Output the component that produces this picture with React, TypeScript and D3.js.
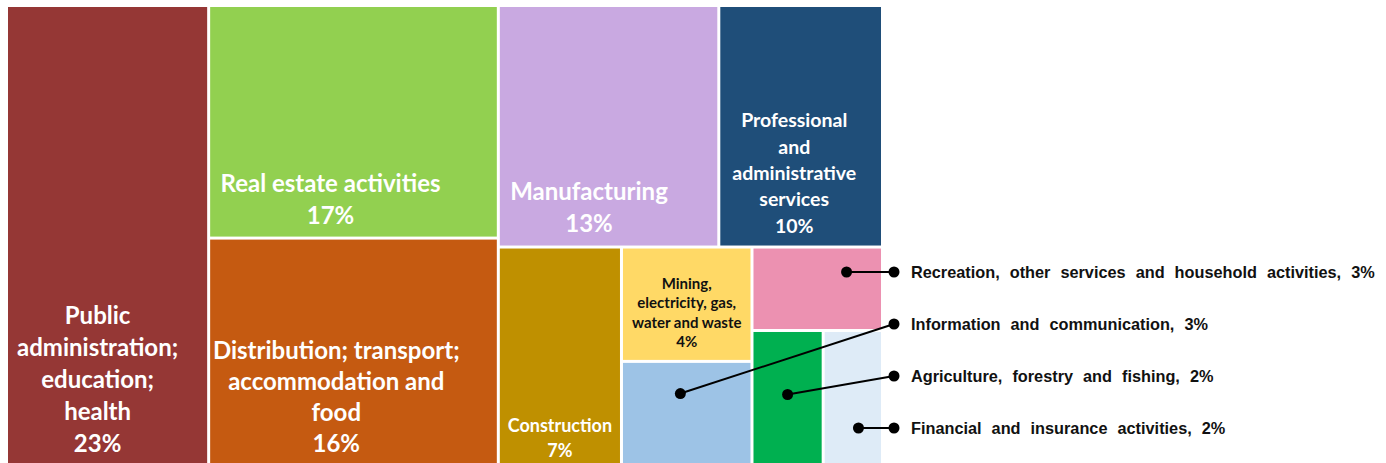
import React from 'react';
import * as d3 from 'd3';

// sector shares (%)
const sectors = [
  'Public administration; education; health',
  'Real estate activities',
  'Distribution; transport; accommodation and food',
  'Manufacturing',
  'Professional and administrative services',
  'Construction',
  'Mining, electricity, gas, water and waste',
  'Information and communication',
  'Recreation, other services and household activities',
  'Agriculture, forestry and fishing',
  'Financial and insurance activities',
];
const shares = [23.1, 16.7, 16.4, 13.2, 9.8, 6.7, 3.7, 3.4, 2.7, 2.4, 2.0];
const tileLines = [
  ['Public', 'administration;', 'education;', 'health'],
  ['Real estate activities'],
  ['Distribution; transport;', 'accommodation and', 'food'],
  ['Manufacturing'],
  ['Professional', 'and', 'administrative', 'services'],
  ['Construction'],
  ['Mining,', 'electricity, gas,', 'water and waste'],
  [], [], [], [],
];
// small tiles labelled outside, top to bottom
const calloutOrder = [8, 7, 9, 10];

const colors = ['#953735', '#92D050', '#C55A11', '#C9A9E1', '#1F4E79', '#BF9000',
  '#FFD966', '#9DC3E6', '#EC91B1', '#00B050', '#DEEBF7'];
const textFill = ['#fff', '#fff', '#fff', '#fff', '#fff', '#fff', '#111'];
const labelStyle = [
  { size: 24, lh: 32, pad: 13, fx: 0.45 },
  { size: 24, lh: 32, pad: 13, fx: 0.42 },
  { size: 24, lh: 31, pad: 13, fx: 0.44 },
  { size: 24, lh: 32, pad: 14, fx: 0.41 },
  { size: 19.5, lh: 26.3, pad: 13, fx: 0.46 },
  { size: 18, lh: 25, pad: 8, fx: 0.5 },
  { size: 15, lh: 19.3, pad: 13, fx: 0.5 },
];
const calloutAnchor = [[0.73, null], [0.45, 0.3], [0.5, 0.47], [0.6, null]];

const W = 1386, H = 463;
const left = 8, top = 7, tmW = 873, tmH = 458;

// squarify variant: a row only grows when it clearly improves the aspect ratio
function tile(parent, x0, y0, x1, y1) {
  const nodes = parent.children;
  let value = parent.value;
  let i0 = 0;
  while (i0 < nodes.length) {
    const dx = x1 - x0, dy = y1 - y0;
    const dice = dy > dx * 1.1;
    const side = dice ? dx : dy;
    const span = dice ? dy : dx;
    const worst = (a, b) => {
      const part = nodes.slice(a, b);
      const sum = d3.sum(part, d => d.value);
      const depth = span * sum / value;
      return d3.max(part, d => {
        const len = side * d.value / sum;
        return Math.max(len / depth, depth / len);
      });
    };
    let i1 = i0 + 1;
    let best = worst(i0, i1);
    while (i1 < nodes.length) {
      const r = worst(i0, i1 + 1);
      if (r > best * 0.75) break;
      best = r;
      i1++;
    }
    const rowNodes = nodes.slice(i0, i1);
    const sum = d3.sum(rowNodes, d => d.value);
    const row = { value: sum, children: rowNodes };
    if (dice) {
      const yy = y0 + dy * sum / value;
      d3.treemapDice(row, x0, y0, x1, yy);
      y0 = yy;
    } else {
      const xx = x0 + dx * sum / value;
      d3.treemapSlice(row, x0, y0, xx, y1);
      x0 = xx;
    }
    value -= sum;
    i0 = i1;
  }
}

export default function App() {
  const data = sectors.map((name, i) => ({ name, i, value: shares[i] }));
  const root = d3.hierarchy({ children: data }).sum(d => d.value || 0);
  d3.treemap().tile(tile).size([tmW, tmH]).paddingInner(3)(root);
  const leaves = root.leaves();
  const byIndex = new Map(leaves.map(l => [l.data.i, l]));

  const pct = v => `${Math.round(v)}%`;

  return (
    <svg width={W} height={H} style={{ position: 'absolute', left: 0, top: 0, background: '#fff' }}>
      <g transform={`translate(${left},${top})`}>
        {leaves.map(l => (
          <rect key={l.data.i} x={l.x0} y={l.y0} width={l.x1 - l.x0} height={l.y1 - l.y0}
            fill={colors[l.data.i]} />
        ))}
        {leaves.filter(l => tileLines[l.data.i].length).map(l => {
          const i = l.data.i;
          const st = labelStyle[i];
          const lines = [...tileLines[i], pct(l.data.value)];
          const cx = l.x0 + (l.x1 - l.x0) * st.fx;
          const lastY = l.y1 - st.pad;
          return (
            <text key={`t${i}`} textAnchor="middle" fill={textFill[i]}
              style={{ fontFamily: 'Lato, "Open Sans", sans-serif', fontWeight: 700, fontSize: st.size }}>
              {lines.map((s, k) => (
                <tspan key={k} x={cx} y={lastY - (lines.length - 1 - k) * st.lh}>{s}</tspan>
              ))}
            </text>
          );
        })}
      </g>
      {calloutOrder.map((idx, k) => {
        const l = byIndex.get(idx);
        const ly = 272 + k * 52;
        const [fx, fy] = calloutAnchor[k];
        const ax = left + l.x0 + (l.x1 - l.x0) * fx;
        const ay = fy == null ? ly : top + l.y0 + (l.y1 - l.y0) * fy;
        const ox = 894;
        return (
          <g key={`c${idx}`}>
            <line x1={ax} y1={ay} x2={ox} y2={ly} stroke="#000" strokeWidth={2} />
            <circle cx={ax} cy={ay} r={5.5} fill="#000" />
            <circle cx={ox} cy={ly} r={5.5} fill="#000" />
            <text x={911} y={ly + 6} fill="#111"
              style={{ fontFamily: '"Liberation Sans", Arial, sans-serif', fontWeight: 700, fontSize: 16.3, wordSpacing: '5.5px' }}>
              {`${sectors[idx]}, ${pct(shares[idx])}`}
            </text>
          </g>
        );
      })}
    </svg>
  );
}
